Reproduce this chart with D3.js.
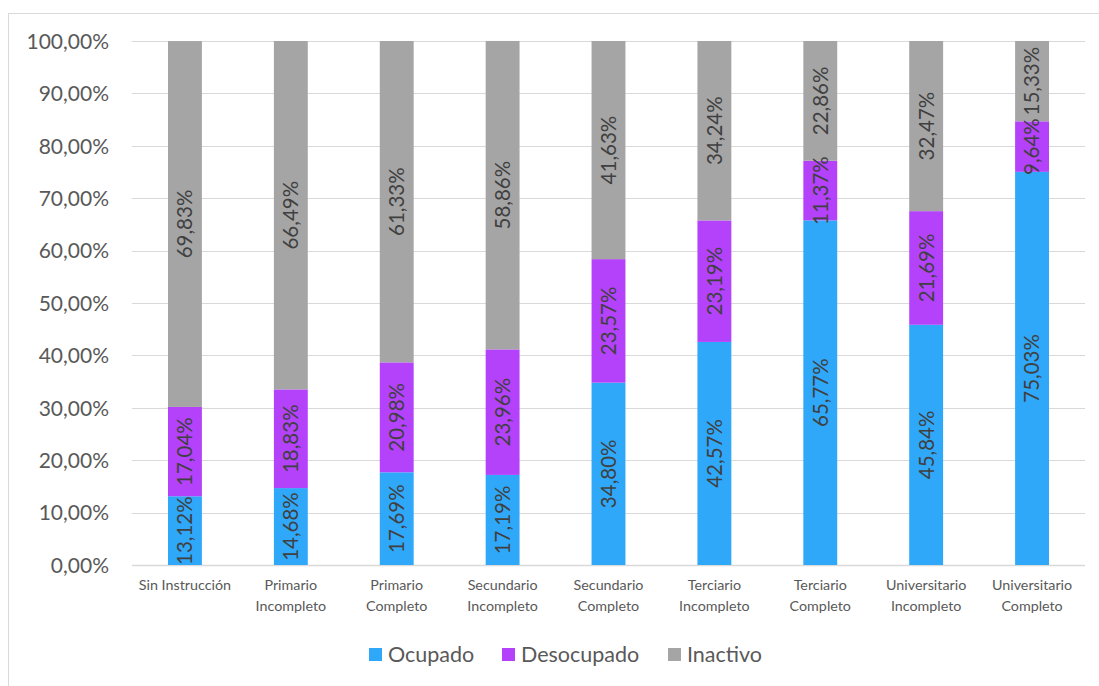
<!DOCTYPE html>
<html>
<head>
<meta charset="utf-8">
<script src="https://cdn.jsdelivr.net/npm/d3@7"></script>
<style>
  html, body { margin: 0; padding: 0; background: #fff; }
  svg { display: block; }
</style>
</head>
<body>
<svg id="chart" width="1099" height="686"></svg>
<script>
// Nivel educativo: cada categoría se reparte entre ocupado, desocupado e inactivo
const categories = [
  ["Sin Instrucción"],
  ["Primario", "Incompleto"],
  ["Primario", "Completo"],
  ["Secundario", "Incompleto"],
  ["Secundario", "Completo"],
  ["Terciario", "Incompleto"],
  ["Terciario", "Completo"],
  ["Universitario", "Incompleto"],
  ["Universitario", "Completo"]
];
const ocupado    = [13.12, 14.68, 17.69, 17.19, 34.80, 42.57, 65.77, 45.84, 75.03];
const desocupado = [17.04, 18.83, 20.98, 23.96, 23.57, 23.19, 11.37, 21.69, 9.64];
const inactivo   = [69.83, 66.49, 61.33, 58.86, 41.63, 34.24, 22.86, 32.47, 15.33];
const seriesNames = ["Ocupado", "Desocupado", "Inactivo"];
const seriesColors = ["#2fa8fa", "#b442fa", "#a5a5a5"];
const yTicks = [0, 10, 20, 30, 40, 50, 60, 70, 80, 90, 100];

const fmt = v => v.toFixed(2).replace(".", ",") + "%";

const svg = d3.select("#chart");
const font = "Lato, 'Open Sans', sans-serif";

// Marco del gráfico
svg.append("rect")
  .attr("x", 8.5).attr("y", 13.5)
  .attr("width", 1110).attr("height", 700)
  .attr("fill", "none").attr("stroke", "#d9d9d9").attr("stroke-width", 1);

const x = d3.scaleBand()
  .domain(d3.range(categories.length))
  .range([132, 1085])
  .paddingInner(0.68)
  .paddingOuter(0.34);

const y = d3.scaleLinear().domain([0, 100]).range([565, 41]);

// Líneas de cuadrícula
svg.append("g")
  .selectAll("line")
  .data(yTicks)
  .join("line")
  .attr("x1", 132).attr("x2", 1085)
  .attr("y1", d => Math.round(y(d)) + 0.5)
  .attr("y2", d => Math.round(y(d)) + 0.5)
  .attr("stroke", "#d9d9d9")
  .attr("stroke-width", d => d === 0 ? 1.5 : 1);

// Eje Y
const yAxis = d3.axisLeft(y)
  .tickValues(yTicks)
  .tickSize(0)
  .tickPadding(0)
  .tickFormat(d => fmt(d));
const gy = svg.append("g").attr("transform", "translate(109,0)").call(yAxis);
gy.select(".domain").remove();
gy.selectAll("text")
  .attr("fill", "#595959")
  .attr("font-family", font)
  .attr("font-size", 21)
  .attr("dy", "0.35em");

// Apilado
const rows = categories.map((c, i) => ({ i, Ocupado: ocupado[i], Desocupado: desocupado[i], Inactivo: inactivo[i] }));
const stack = d3.stack().keys(seriesNames)(rows);

const bars = svg.append("g");
stack.forEach((layer, si) => {
  const g = bars.append("g");
  g.selectAll("rect")
    .data(layer)
    .join("rect")
    .attr("x", d => x(d.data.i))
    .attr("width", x.bandwidth())
    .attr("y", d => y(d[1]))
    .attr("height", d => y(d[0]) - y(d[1]))
    .attr("fill", seriesColors[si]);
});

// Etiquetas de valores, giradas
stack.forEach((layer, si) => {
  bars.append("g")
    .selectAll("text")
    .data(layer)
    .join("text")
    .attr("transform", d => {
      const cx = x(d.data.i) + x.bandwidth() / 2;
      const cy = (y(d[0]) + y(d[1])) / 2;
      return `translate(${cx},${cy}) rotate(-90)`;
    })
    .attr("text-anchor", "middle")
    .attr("dy", "0.36em")
    .attr("fill", "#404040")
    .attr("font-family", font)
    .attr("font-size", 20.5)
    .text(d => fmt(d.data[layer.key]));
});

// Etiquetas de categorías
const cat = svg.append("g");
categories.forEach((lines, i) => {
  const t = cat.append("text")
    .attr("x", x(i) + x.bandwidth() / 2)
    .attr("y", 590)
    .attr("text-anchor", "middle")
    .attr("fill", "#595959")
    .attr("font-family", font)
    .attr("font-size", 14.3);
  lines.forEach((l, k) => {
    t.append("tspan")
      .attr("x", x(i) + x.bandwidth() / 2)
      .attr("dy", k === 0 ? 0 : 20.5)
      .text(l);
  });
});

// Leyenda
const legendX = [369, 502, 668];
const legend = svg.append("g");
seriesNames.forEach((name, i) => {
  legend.append("rect")
    .attr("x", legendX[i]).attr("y", 648)
    .attr("width", 13).attr("height", 13)
    .attr("fill", seriesColors[i]);
  legend.append("text")
    .attr("x", legendX[i] + 19).attr("y", 662)
    .attr("fill", "#595959")
    .attr("font-family", font)
    .attr("font-size", 21.5)
    .text(name);
});
</script>
</body>
</html>
